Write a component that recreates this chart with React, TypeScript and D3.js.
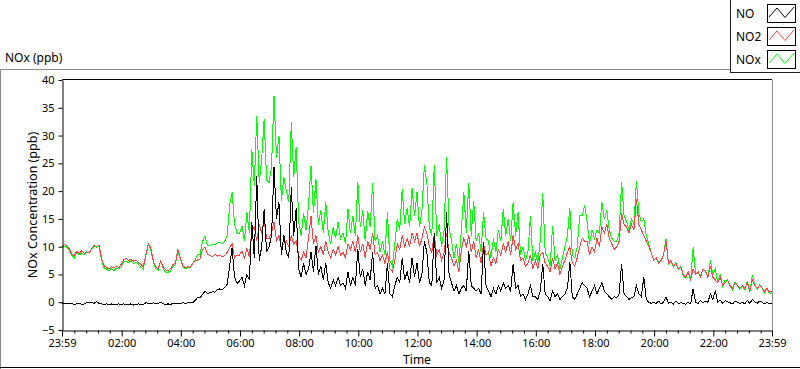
import * as d3 from "d3";
import * as React from "react";

// readings every 5 minutes, starting 23:59 and running for 24 hours
const sampleStep = 5;

const seriesNames = ["NO", "NO2", "NOx"];
const seriesColors = ["#000000", "#ff4040", "#00ff00"];

const yTicks = [-5, 0, 5, 10, 15, 20, 25, 30, 35, 40];
const xTickMinutes = [0, 121, 241, 361, 481, 601, 721, 841, 961, 1081, 1201, 1321, 1440];
const xTickLabels = ["23:59", "02:00", "04:00", "06:00", "08:00", "10:00", "12:00", "14:00", "16:00", "18:00", "20:00", "22:00", "23:59"];

// one row per hour
const no = [
  -0.1, -0.3, -0.2, -0.3, -0.2, -0.4, -0.3, -0.2, -0.4, -0.3, -0.1, 0.0,
  -0.1, -0.2, 0.1, -0.2, -0.3, -0.4, -0.3, -0.4, -0.3, -0.5, -0.4, -0.3,
  -0.4, -0.3, -0.5, -0.4, -0.3, -0.5, -0.4, -0.3, -0.5, -0.4, -0.1, -0.2,
  -0.3, -0.1, -0.3, -0.2, 0.0, -0.3, -0.4, -0.3, -0.4, -0.2, -0.3, -0.2,
  -0.3, -0.1, -0.2, -0.1, 0.0, -0.1, 0.3, 0.9, 0.8, 1.4, 2.0, 1.6,
  1.7, 1.9, 1.8, 2.2, 2.4, 2.3, 2.7, 3.2, 6.5, 9.8, 4.5, 3.4,
  3.8, 4.5, 3.0, 5.0, 4.0, 14.5, 8.0, 22.8, 7.5, 10.0, 16.8, 9.0,
  10.0, 12.0, 24.3, 15.0, 18.0, 8.5, 12.0, 9.0, 8.0, 20.7, 12.0, 17.0,
  6.0, 4.5, 7.0, 5.0, 6.0, 9.0, 5.5, 10.2, 5.0, 6.5, 4.0, 7.0,
  3.5, 2.5, 4.0, 3.0, 4.5, 3.0, 3.5, 2.5, 5.5, 3.0, 4.5, 3.0,
  9.5, 4.5, 6.0, 3.0, 5.5, 4.0, 9.0, 2.5, 3.0, 1.5, 2.5, 1.5,
  7.0, 1.5, 1.0, 3.0, 4.5, 3.5, 8.0, 4.0, 5.5, 3.5, 8.0, 4.5,
  7.0, 3.5, 5.0, 11.0, 9.0, 3.5, 3.0, 12.5, 3.5, 4.5, 2.5, 4.0,
  16.2, 5.0, 3.5, 2.0, 3.0, 1.5, 2.5, 3.0, 2.0, 9.3, 3.0, 2.5,
  2.0, 2.5, 1.5, 10.8, 3.0, 2.0, 1.0, 2.5, 1.5, 3.0, 2.0, 3.5,
  2.5, 3.0, 2.0, 6.9, 2.5, 3.0, 1.0, 1.5, 0.5, 1.5, 3.0, 1.0,
  1.0, 0.5, 2.0, 6.9, 1.5, 1.0, 0.3, 2.0, 1.0, 1.5, 0.5, 1.0,
  1.5, 2.5, 7.2, 1.0, 0.5, 1.5, 2.5, 3.5, 3.0, 2.5, 1.0, 2.0,
  3.0, 1.5, 2.5, 3.5, 2.0, 1.5, 1.0, 0.5, 1.0, 0.8, 1.5, 6.9,
  1.5, 1.0, 0.5, 0.8, 1.0, 3.0, 1.5, 1.0, 4.5, 0.5, 0.0, -0.2,
  0.0, -0.2, 0.2, -0.3, 0.0, 1.0, -0.2, 0.0, -0.3, 0.2, -0.2, -0.1,
  -0.2, -0.4, 0.0, -0.3, 2.4, 0.0, -0.2, 0.3, -0.1, 0.2, 0.0, 1.5,
  0.5, 2.1, 0.0, 0.4, -0.2, 0.3, 0.1, -0.1, -0.3, 0.2, 0.0, -0.2,
  0.0, -0.3, 0.3, -0.2, 0.5, 0.1, -0.2, 0.2, 0.0, -0.3, 0.0, -0.3,
  -0.2,
];

const no2 = [
  10.0, 10.4, 10.1, 9.6, 8.6, 8.4, 9.2, 8.7, 9.3, 8.8, 9.1, 8.9,
  9.6, 10.2, 9.9, 10.3, 8.0, 6.6, 6.3, 6.0, 6.4, 6.2, 6.5, 6.3,
  6.8, 7.6, 7.9, 7.5, 7.8, 7.4, 7.6, 7.2, 6.8, 6.4, 8.5, 10.5,
  9.8, 7.5, 6.3, 6.0, 7.4, 6.4, 5.8, 5.7, 6.0, 6.8, 7.0, 9.5,
  8.0, 6.6, 6.2, 6.4, 6.3, 7.0, 7.4, 7.6, 7.8, 9.5, 9.9, 8.6,
  8.4, 8.2, 8.6, 8.3, 8.5, 8.2, 8.4, 9.0, 9.8, 10.5, 8.0, 8.5,
  8.5, 9.2, 8.0, 9.6, 8.2, 13.0, 13.5, 11.0, 14.0, 12.5, 14.5, 11.5,
  11.5, 12.5, 14.5, 11.0, 12.0, 9.8, 10.5, 11.0, 10.0, 12.0, 10.5, 11.0,
  8.5, 7.5, 9.0, 8.0, 11.5, 15.5, 10.5, 12.0, 9.0, 10.0, 8.5, 11.0,
  9.0, 8.0, 9.5, 8.5, 10.0, 8.5, 9.0, 8.0, 10.5, 9.5, 11.0, 9.0,
  12.0, 9.0, 10.5, 8.0, 11.0, 9.5, 12.5, 8.5, 9.0, 7.5, 8.5, 7.0,
  9.0, 6.0, 5.5, 7.5, 10.5, 9.5, 12.0, 10.0, 11.5, 10.0, 12.5, 11.0,
  12.5, 10.0, 11.5, 13.5, 12.5, 10.0, 9.0, 12.2, 8.5, 9.5, 7.5, 9.0,
  12.5, 9.0, 8.0, 6.5, 7.5, 5.5, 9.5, 11.5, 10.0, 12.0, 9.0, 11.0,
  8.0, 9.5, 7.0, 10.5, 8.5, 9.0, 6.5, 8.0, 7.0, 9.5, 8.5, 10.5,
  9.0, 11.0, 8.5, 12.0, 9.5, 10.5, 7.5, 8.0, 6.5, 7.0, 8.5, 6.0,
  7.5, 6.0, 8.5, 9.0, 7.0, 6.5, 5.5, 8.0, 6.0, 7.0, 5.0, 6.5,
  7.5, 9.0, 10.0, 7.0, 6.5, 8.0, 10.0, 11.5, 11.0, 11.0, 8.5, 10.0,
  9.0, 11.5, 10.0, 13.5, 12.5, 14.0, 11.5, 10.5, 9.5, 10.0, 11.0, 16.0,
  14.0, 13.5, 12.5, 14.0, 13.0, 18.6, 14.0, 13.0, 12.0, 11.0, 10.0, 9.0,
  7.5, 8.0, 7.0, 7.5, 8.5, 11.0, 7.0, 7.5, 6.5, 7.0, 6.0, 6.5,
  5.0, 4.5, 5.5, 4.0, 6.0, 5.0, 5.5, 4.5, 6.0, 5.5, 4.5, 6.5,
  4.5, 4.0, 3.5, 4.5, 3.0, 3.5, 4.0, 3.0, 2.5, 3.5, 3.0, 2.5,
  3.0, 2.5, 3.5, 2.0, 4.0, 3.0, 2.5, 3.0, 2.5, 2.0, 2.5, 1.8,
  2.0,
];

const nox = [
  9.9, 10.1, 9.9, 9.3, 8.4, 8.0, 8.9, 8.5, 8.9, 8.5, 9.0, 8.9,
  9.5, 10.0, 10.0, 10.1, 7.7, 6.2, 6.0, 5.6, 6.1, 5.7, 6.1, 6.0,
  6.4, 7.3, 7.4, 7.1, 7.5, 6.9, 7.2, 6.9, 6.3, 6.0, 8.4, 10.3,
  9.5, 7.4, 6.0, 5.8, 7.4, 6.1, 5.4, 5.4, 5.6, 6.6, 6.7, 9.3,
  7.7, 6.5, 6.0, 6.3, 6.3, 6.9, 7.7, 8.5, 8.6, 10.9, 11.9, 10.2,
  10.2, 10.4, 10.3, 10.6, 10.8, 10.5, 11.0, 12.0, 17.5, 19.8, 14.0, 12.5,
  12.3, 13.7, 11.0, 16.2, 12.4, 27.5, 21.0, 33.6, 21.5, 25.8, 33.0, 22.0,
  21.5, 24.5, 37.2, 26.0, 30.0, 18.3, 22.5, 20.0, 18.0, 32.4, 22.5, 28.0,
  14.5, 12.0, 16.0, 13.0, 17.5, 24.6, 16.0, 22.2, 14.0, 16.5, 12.5, 18.0,
  12.5, 10.5, 13.5, 11.5, 14.5, 11.5, 12.5, 10.5, 16.8, 12.5, 15.5, 12.0,
  21.6, 13.5, 16.5, 11.0, 16.5, 13.5, 21.5, 11.0, 12.0, 9.0, 11.0, 8.5,
  16.2, 7.5, 6.5, 10.5, 15.0, 13.0, 20.4, 14.0, 17.0, 13.5, 20.5, 15.5,
  19.8, 13.5, 16.5, 24.6, 21.5, 13.5, 12.0, 24.7, 12.0, 14.0, 10.0, 13.0,
  26.2, 13.5, 11.0, 8.0, 10.5, 7.0, 13.0, 19.8, 12.5, 21.5, 12.0, 18.3,
  11.0, 12.5, 9.0, 16.2, 11.5, 11.0, 8.0, 11.5, 9.0, 13.0, 11.0, 16.8,
  12.0, 15.0, 11.0, 18.0, 12.0, 16.2, 8.5, 10.0, 7.5, 9.0, 15.5, 7.5,
  9.0, 7.0, 11.0, 19.7, 9.0, 8.0, 6.5, 13.8, 7.5, 8.5, 6.0, 8.0,
  10.0, 12.0, 17.0, 8.5, 8.0, 10.0, 15.6, 15.6, 17.5, 14.5, 10.5, 13.0,
  11.5, 13.0, 12.5, 18.0, 15.0, 16.5, 13.0, 11.5, 11.0, 11.0, 12.5, 21.7,
  15.5, 14.5, 13.0, 15.0, 14.0, 21.8, 16.0, 14.5, 15.0, 12.0, 10.5, 9.0,
  7.5, 8.0, 7.2, 7.4, 8.5, 11.4, 6.8, 7.5, 6.3, 7.2, 5.9, 6.4,
  4.8, 4.2, 5.5, 3.8, 9.9, 5.0, 5.3, 4.8, 5.9, 5.7, 4.5, 7.5,
  5.0, 6.0, 3.5, 5.0, 2.8, 4.0, 4.0, 2.9, 2.2, 3.7, 3.0, 2.3,
  3.0, 2.2, 3.8, 1.8, 4.8, 3.1, 2.3, 3.2, 2.5, 1.7, 2.5, 1.5,
  1.8,
];

const font = "'Noto Sans', sans-serif";

export default function App() {
  const ref = React.useRef<SVGSVGElement>(null);

  React.useEffect(() => {
    const svg = d3.select(ref.current as SVGSVGElement);
    svg.selectAll("*").remove();

    const left = 62, right = 772, top = 80, bottom = 330;

    const x = d3.scaleLinear().domain([0, 1440]).range([left, right]);
    const y = d3.scaleLinear().domain([-5, 40]).range([bottom, top]);

    svg.append("rect").attr("width", 800).attr("height", 369).attr("fill", "#fff");

    // outer panel edges
    svg.append("path").attr("d", "M0.5,369V69.5H730").attr("fill", "none").attr("stroke", "#8c8c8c");
    svg.append("path").attr("d", "M0,367.5H800").attr("stroke", "#000");

    svg.append("text")
      .attr("x", 5).attr("y", 62)
      .attr("font-family", font).attr("font-size", 12)
      .text("NOx (ppb)");

    // plot frame
    svg.append("path").attr("d", `M${left},${top - 0.5}H${right}`).attr("stroke", "#000");
    svg.append("path").attr("d", `M${right + 0.5},${top}V${bottom}`).attr("stroke", "#8c8c8c");

    // series: NOx underneath, NO on top
    const lineGen = d3.line<number>()
      .x((d, i) => x(i * sampleStep))
      .y((d) => y(d));

    const layers = [
      { data: nox, color: seriesColors[2] },
      { data: no2, color: seriesColors[1] },
      { data: no, color: seriesColors[0] },
    ];
    const plot = svg.append("g");
    layers.forEach((l) => {
      plot.append("path")
        .attr("d", lineGen(l.data))
        .attr("fill", "none")
        .attr("stroke", l.color)
        .attr("stroke-width", 1)
        .attr("shape-rendering", "crispEdges");
    });

    // y axis
    const yAxis = svg.append("g")
      .attr("transform", `translate(${left + 0.5},0)`)
      .call(d3.axisLeft(y).tickValues(yTicks).tickSize(4).tickSizeOuter(0).tickPadding(4));
    yAxis.select(".domain").attr("stroke", "#000");
    yAxis.selectAll("text").attr("font-family", font).attr("font-size", 11).attr("fill", "#000");

    // x axis: minor ticks every 24 min, major every 2 h
    const minorTicks = d3.range(1, 1440, 24).filter((m) => m > 1 && (m - 1) % 120 !== 0);
    const xMinor = svg.append("g")
      .attr("transform", `translate(0,${bottom + 0.5})`)
      .call(d3.axisBottom(x).tickValues(minorTicks).tickSize(3).tickSizeOuter(0).tickFormat(() => ""));
    xMinor.select(".domain").remove();

    const xAxis = svg.append("g")
      .attr("transform", `translate(0,${bottom + 0.5})`)
      .call(
        d3.axisBottom(x)
          .tickValues(xTickMinutes)
          .tickSize(6)
          .tickSizeOuter(0)
          .tickPadding(3)
          .tickFormat((d, i) => xTickLabels[i])
      );
    xAxis.selectAll("text").attr("font-family", font).attr("font-size", 11).attr("fill", "#000");

    svg.append("text")
      .attr("x", (left + right) / 2).attr("y", 364)
      .attr("text-anchor", "middle")
      .attr("font-family", font).attr("font-size", 12)
      .text("Time");

    svg.append("text")
      .attr("transform", `translate(37,${(top + bottom) / 2}) rotate(-90)`)
      .attr("text-anchor", "middle")
      .attr("font-family", font).attr("font-size", 12.5)
      .text("NOx Concentration (ppb)");

    // legend
    const legend = svg.append("g");
    legend.append("rect")
      .attr("x", 730.5).attr("y", -1).attr("width", 75).attr("height", 73.5)
      .attr("fill", "#fff").attr("stroke", "#202020");
    seriesNames.forEach((name, i) => {
      const by = 4 + i * 23;
      legend.append("text")
        .attr("x", 736).attr("y", by + 14)
        .attr("font-family", font).attr("font-size", 12)
        .text(name);
      legend.append("rect")
        .attr("x", 767.5).attr("y", by + 0.5).attr("width", 28).attr("height", 18)
        .attr("fill", "#fff").attr("stroke", "#000");
      legend.append("path")
        .attr("d", `M769,${by + 13}L777,${by + 4}L785,${by + 13.5}L794,${by + 3}`)
        .attr("fill", "none").attr("stroke", seriesColors[i]);
    });
  }, []);

  return (
    <svg
      ref={ref}
      width={800}
      height={369}
      style={{ position: "absolute", left: 0, top: 0, display: "block" }}
    />
  );
}
